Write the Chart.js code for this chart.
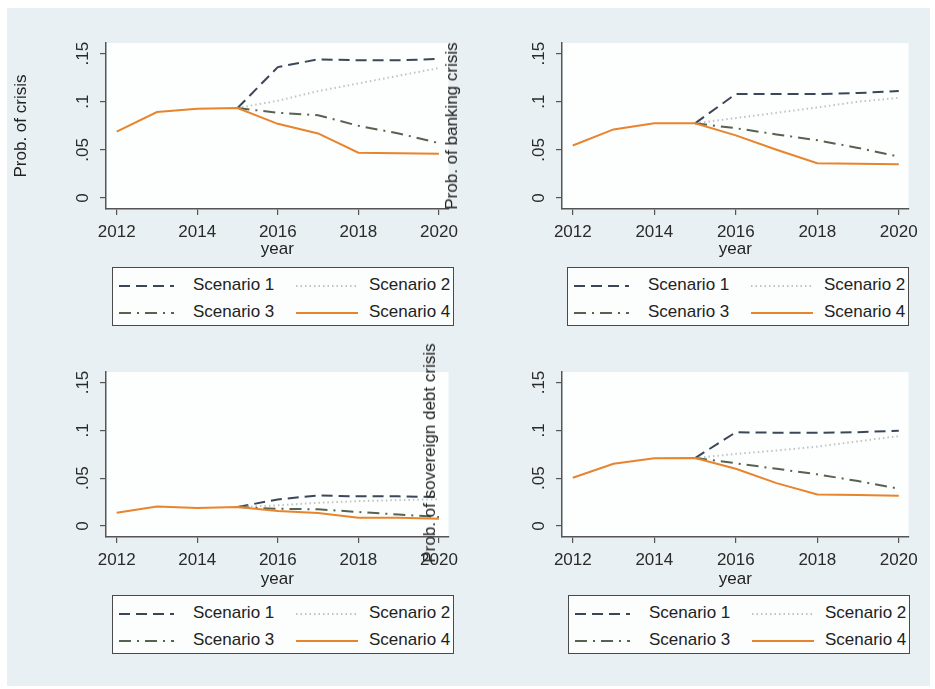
<!DOCTYPE html>
<html>
<head>
<meta charset="utf-8">
<script src="https://cdn.jsdelivr.net/npm/chart.js@4.4.1/dist/chart.umd.min.js"></script>
<style>
    body { margin: 0; width: 935px; height: 689px; overflow: hidden; background: #ffffff; font-family: "Liberation Sans", Arial, sans-serif; }
    #frame { position: absolute; left: 7px; top: 8px; width: 923px; height: 678px; background: #e9f0f3; }
    canvas { position: absolute; }
    .legend { position: absolute; width: 342px; height: 59px; box-sizing: border-box; border: 1.5px solid #4a4a4a; background: #fcfdfd; }
    .legend svg, .legend span { position: absolute; }
    .legend span { font-size: 17px; color: #222; line-height: 20px; white-space: nowrap; }
    .ytitle { position: absolute; font-size: 17px; color: #222; white-space: nowrap; transform: translate(-50%, -50%) rotate(-90deg); }
</style>
</head>
<body>
<div id="frame"></div>
<canvas id="c1" width="465" height="262" style="left:0;top:0"></canvas>
<canvas id="c2" width="460" height="262" style="left:465px;top:0"></canvas>
<canvas id="c3" width="465" height="262" style="left:0;top:330px"></canvas>
<canvas id="c4" width="460" height="262" style="left:465px;top:330px"></canvas>
<div class="ytitle" style="left:452px;top:126px">Prob. of banking crisis</div>
<div class="ytitle" style="left:430px;top:453px">Prob. of sovereign debt crisis</div>
<div class="legend" id="lg1" style="left:112px;top:267px"></div>
<div class="legend" id="lg2" style="left:567px;top:267px"></div>
<div class="legend" id="lg3" style="left:112px;top:595px"></div>
<div class="legend" id="lg4" style="left:568px;top:595px"></div>

<script>
const years = [2012, 2013, 2014, 2015, 2016, 2017, 2018, 2019, 2020];
const xTicks = [2012, 2014, 2016, 2018, 2020];
const yTicks = [0, 0.05, 0.1, 0.15];
const yTickLabels = ['0', '.05', '.1', '.15'];
const seriesNames = ['Scenario 1', 'Scenario 2', 'Scenario 3', 'Scenario 4'];

// top left: Prob. of crisis
const crisisS1 = [null, null, null, 0.0934, 0.136, 0.144, 0.143, 0.143, 0.1445];
const crisisS2 = [null, null, null, 0.0934, 0.101, 0.111, 0.119, 0.127, 0.135];
const crisisS3 = [null, null, null, 0.0934, 0.0885, 0.086, 0.075, 0.067, 0.057];
const crisisS4 = [0.069, 0.0893, 0.0927, 0.0934, 0.077, 0.067, 0.047, 0.0465, 0.046];

// top right: Prob. of banking crisis
const bankingS1 = [null, null, null, 0.0775, 0.108, 0.108, 0.108, 0.109, 0.111];
const bankingS2 = [null, null, null, 0.0775, 0.083, 0.0885, 0.094, 0.100, 0.104];
const bankingS3 = [null, null, null, 0.0775, 0.0725, 0.066, 0.060, 0.052, 0.043];
const bankingS4 = [0.0545, 0.0712, 0.0775, 0.0775, 0.065, 0.050, 0.036, 0.0355, 0.035];

// bottom left (no axis title shown)
const lowerLeftS1 = [null, null, null, 0.0198, 0.0278, 0.032, 0.031, 0.031, 0.0302];
const lowerLeftS2 = [null, null, null, 0.0198, 0.0216, 0.0243, 0.026, 0.027, 0.028];
const lowerLeftS3 = [null, null, null, 0.0198, 0.018, 0.0175, 0.0146, 0.012, 0.0094];
const lowerLeftS4 = [0.0139, 0.0205, 0.0188, 0.0198, 0.0156, 0.0135, 0.0087, 0.0085, 0.0077];

// bottom right: Prob. of sovereign debt crisis
const sovereignS1 = [null, null, null, 0.071, 0.098, 0.0975, 0.0975, 0.098, 0.0997];
const sovereignS2 = [null, null, null, 0.071, 0.0754, 0.0789, 0.083, 0.0885, 0.094];
const sovereignS3 = [null, null, null, 0.071, 0.0656, 0.0598, 0.054, 0.047, 0.039];
const sovereignS4 = [0.0504, 0.065, 0.0708, 0.071, 0.0598, 0.0448, 0.033, 0.0325, 0.0316];

const lineColors = ['#3b4758', '#c2c2c2', '#56634f', '#e8842c'];
const lineDashes = [[11, 6], [1.5, 3], [12, 6, 2, 6], []];
const lineWidths = [2, 2, 2, 2];

const FONT = '"Liberation Sans", Arial, sans-serif';

// white plot region + rotated y tick labels
const plotDecor = {
    id: 'plotDecor',
    beforeDraw(chart) {
        const a = chart.chartArea;
        const ctx = chart.ctx;
        ctx.save();
        ctx.fillStyle = '#fdfefe';
        ctx.fillRect(a.left, a.top, a.right - a.left, a.bottom - a.top);
        ctx.restore();
    },
    afterDraw(chart) {
        const ctx = chart.ctx;
        const y = chart.scales.y;
        ctx.save();
        ctx.font = '17px ' + FONT;
        ctx.fillStyle = '#2a2a2a';
        ctx.textAlign = 'center';
        ctx.textBaseline = 'middle';
        yTicks.forEach((v, i) => {
            ctx.save();
            ctx.translate(chart.chartArea.left - 23, y.getPixelForValue(v));
            ctx.rotate(-Math.PI / 2);
            ctx.fillText(yTickLabels[i], 0, 0);
            ctx.restore();
        });
        ctx.restore();
    }
};

function makeChart(id, series, cfg) {
    const datasets = series.map((vals, i) => ({
        label: seriesNames[i],
        data: years.map((yr, j) => ({ x: yr, y: vals[j] })).filter(p => p.y !== null),
        borderColor: lineColors[i],
        borderDash: lineDashes[i],
        borderWidth: lineWidths[i],
        pointRadius: 0,
        fill: false,
        tension: 0,
        order: 3 - i
    }));

    return new Chart(document.getElementById(id), {
        type: 'line',
        data: { datasets: datasets },
        options: {
            responsive: false,
            animation: false,
            layout: { padding: cfg.padding },
            plugins: { legend: { display: false }, tooltip: { enabled: false } },
            scales: {
                x: {
                    type: 'linear',
                    min: 2011.735,
                    max: 2020.24,
                    afterBuildTicks: s => { s.ticks = xTicks.map(v => ({ value: v })); },
                    afterFit: s => { s.height = cfg.xHeight; },
                    ticks: {
                        callback: v => String(v),
                        font: { size: 17, family: FONT },
                        color: '#2a2a2a',
                        padding: 7,
                        maxRotation: 0
                    },
                    grid: { drawOnChartArea: false, drawTicks: true, tickLength: 6, color: '#555', lineWidth: 1.2 },
                    border: { display: true, color: '#555', width: 1.5 },
                    title: { display: true, text: 'year', font: { size: 17, family: FONT }, color: '#222', padding: { top: 0, bottom: 2 } }
                },
                y: {
                    min: -0.0115,
                    max: 0.161,
                    afterBuildTicks: s => { s.ticks = yTicks.map(v => ({ value: v })); },
                    afterFit: s => { s.width = cfg.yWidth; },
                    ticks: { display: false },
                    grid: { drawOnChartArea: false, drawTicks: true, tickLength: 6, color: '#555', lineWidth: 1.2 },
                    border: { display: true, color: '#555', width: 1.5 },
                    title: cfg.yTitle
                        ? { display: true, text: cfg.yTitle, font: { size: 17, family: FONT }, color: '#222', padding: { top: 11, bottom: 11 } }
                        : { display: false }
                }
            }
        },
        plugins: [plotDecor]
    });
}

function buildLegend(id) {
    const box = document.getElementById(id);
    const spots = [
        { x1: 6, x2: 61, tx: 80, y: 18 },
        { x1: 183, x2: 245, tx: 256, y: 18 },
        { x1: 6, x2: 61, tx: 80, y: 45 },
        { x1: 183, x2: 245, tx: 256, y: 45 }
    ];
    seriesNames.forEach((name, i) => {
        const s = spots[i];
        const svg = document.createElementNS('http://www.w3.org/2000/svg', 'svg');
        svg.setAttribute('width', s.x2 - s.x1);
        svg.setAttribute('height', 6);
        svg.style.left = s.x1 + 'px';
        svg.style.top = (s.y - 3) + 'px';
        const ln = document.createElementNS('http://www.w3.org/2000/svg', 'line');
        ln.setAttribute('x1', 0);
        ln.setAttribute('x2', s.x2 - s.x1);
        ln.setAttribute('y1', 3);
        ln.setAttribute('y2', 3);
        ln.setAttribute('stroke', lineColors[i]);
        ln.setAttribute('stroke-width', lineWidths[i]);
        if (lineDashes[i].length) ln.setAttribute('stroke-dasharray', lineDashes[i].join(' '));
        svg.appendChild(ln);
        box.appendChild(svg);

        const label = document.createElement('span');
        label.textContent = name;
        label.style.left = s.tx + 'px';
        label.style.top = (s.y - 11) + 'px';
        box.appendChild(label);
    });
}

makeChart('c1', [crisisS1, crisisS2, crisisS3, crisisS4],
    { padding: { left: 0, top: 43, right: 6, bottom: 0 }, yWidth: 106, xHeight: 53, yTitle: 'Prob. of crisis' });
makeChart('c2', [bankingS1, bankingS2, bankingS3, bankingS4],
    { padding: { left: 0, top: 43, right: 11, bottom: 0 }, yWidth: 97, xHeight: 53 });
makeChart('c3', [lowerLeftS1, lowerLeftS2, lowerLeftS3, lowerLeftS4],
    { padding: { left: 0, top: 42, right: 6, bottom: 0 }, yWidth: 106, xHeight: 55 });
makeChart('c4', [sovereignS1, sovereignS2, sovereignS3, sovereignS4],
    { padding: { left: 0, top: 42, right: 11, bottom: 0 }, yWidth: 97, xHeight: 55 });

['lg1', 'lg2', 'lg3', 'lg4'].forEach(buildLegend);
</script>
</body>
</html>
